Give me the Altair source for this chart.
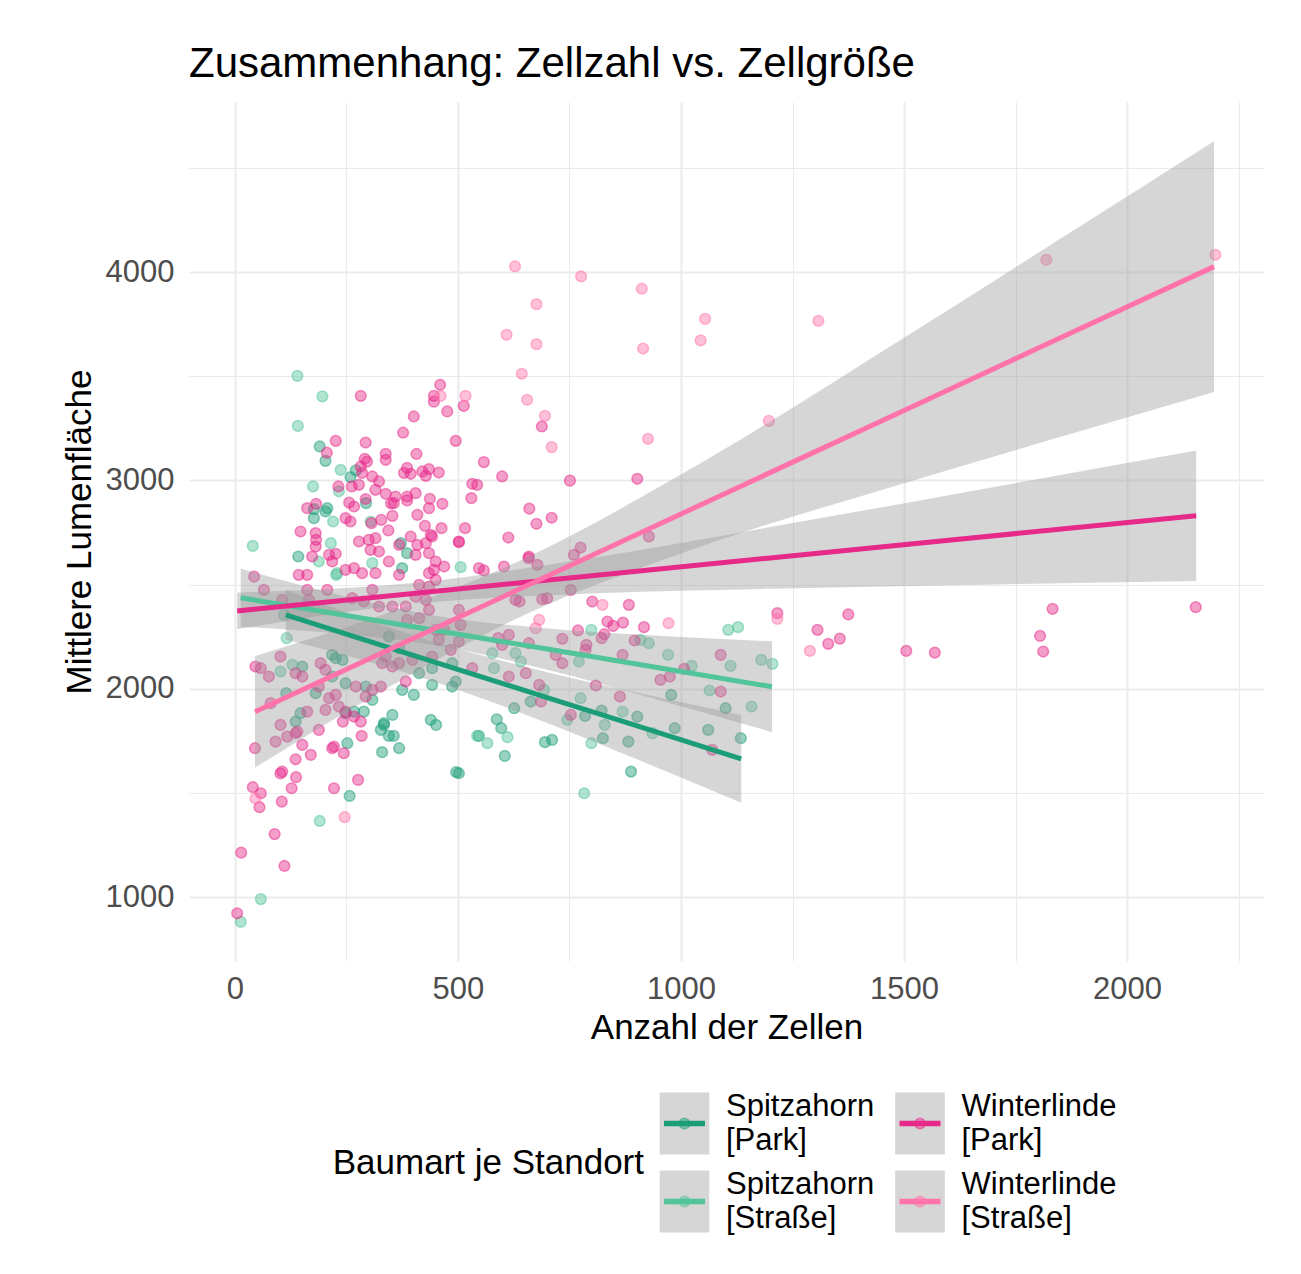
import pandas as pd
import altair as alt

FONT = "Liberation Sans"

# ---------- data ----------
groups = ["Spitzahorn [Park]", "Spitzahorn [Straße]", "Winterlinde [Park]", "Winterlinde [Straße]"]
colors = ["#1b9e77", "#52c49a", "#e7298a", "#ff73aa"]

spp_x = [190, 203, 259, 271, 294, 177, 207, 177, 203, 142, 372, 375, 386, 151, 115, 136, 147, 181, 218, 226,
         241, 218, 248, 248, 267, 289, 308, 293, 334, 353, 327, 368, 345, 375, 401, 413, 442, 442, 487, 487,
         495, 252, 257, 334, 345, 356, 330, 368, 439, 451, 496, 663, 626, 785, 822, 902, 986, 1100, 1061, 1134,
         978, 547, 587, 597, 605, 695, 711, 825, 882, 888, 502]
spp_y = [3163, 3094, 3016, 3048, 2891, 2862, 2867, 2819, 2851, 2635, 2699, 2579, 2651, 2107, 1979, 1843, 1883, 1979, 2163, 2147,
         2139, 2059, 2027, 1883, 1891, 1891, 1947, 2011, 1835, 1875, 1803, 2195, 2251, 1995, 1971, 2075, 2019, 2099, 2123, 2011,
         2035, 1739, 1486, 1827, 1774, 1774, 1696, 1715, 1851, 1827, 1600, 1939, 1907, 1870, 1896, 1867, 1811, 1907, 1803, 1763,
         1971, 1774, 1854, 1811, 1678, 1744, 1755, 1763, 1747, 1603, 1595]

sps_x = [140, 196, 141, 237, 175, 233, 220, 304, 40, 215, 188, 229, 308, 227, 506, 110, 116, 129, 102, 190,
         58, 13, 543, 577, 581, 629, 641, 693, 745, 775, 829, 869, 936, 1064, 1158, 971, 1024, 1111, 1180, 1205,
         1106, 1128, 799, 771, 928, 909, 566, 611, 799, 783]
sps_y = [3502, 3403, 3262, 3051, 2971, 2948, 2803, 2803, 2686, 2699, 2611, 2555, 2603, 2547, 2584, 2355, 2243, 2115, 2083, 1366,
         991, 882, 1774, 2171, 2099, 2171, 2131, 1995, 1851, 1955, 1827, 1891, 1787, 1992, 1915, 2163, 2110, 2110, 2139, 2120,
         2283, 2296, 2283, 2131, 2219, 2235, 1739, 1768, 1739, 1499]

wlp_x = [226, 206, 282, 293, 338, 338, 291, 296, 377, 401, 407, 460, 446, 446, 476, 513, 495, 232, 278, 262,
         308, 323, 315, 285, 282, 379, 386, 394, 420, 435, 428, 457, 532, 543, 256, 267, 293, 338, 360, 356,
         386, 386, 405, 350, 437, 435, 465, 409, 353, 328, 306, 162, 182, 248, 259, 147, 181, 426, 439, 463,
         516, 344, 394,
         182, 181, 173, 211, 226, 218, 278, 300, 315, 323, 304, 345, 368, 267, 285, 315, 248, 143, 162, 409,
         428, 442, 435, 405, 450, 469, 446, 502, 435, 450, 435, 368, 263, 289, 323, 308, 353, 383, 413, 405,
         386, 428, 435, 43, 65, 106, 162, 207, 166, 46, 58, 76, 102, 136, 151, 80, 102, 162, 192, 203,
         188, 211, 203, 233, 226, 248, 267, 271, 293, 308, 327, 330, 353, 368, 338, 398, 383, 413, 450, 457,
         469, 502, 506, 484, 442,
         91, 117, 136, 140, 151, 170, 188, 45, 136, 106, 102, 137, 127, 40, 58, 55, 105, 218, 222, 244,
         242, 282, 284, 222, 276, 89, 14, 111, 5,
         558, 599, 530, 751, 902, 660, 710, 676, 688, 502, 613, 928, 775, 760, 659,
         547, 558, 603, 658, 678, 753, 689, 700, 629, 638, 801, 883, 835, 848, 870, 917, 896, 614, 590, 599,
         532, 502, 659, 734, 769, 788, 786, 822, 828, 869, 734, 719, 682, 686, 652, 614, 809, 863, 753, 954,
         975, 1007, 1089, 1089, 1070,
         1216, 1306, 1330, 1356, 1375, 1505, 1569, 1833, 1805, 1812, 2154]
wlp_y = [3190, 3133, 3406, 3182, 3128, 3099, 3104, 3090, 3229, 3307, 3127, 3459, 3406, 3378, 3331, 3358, 3190, 2971, 2979, 2971,
         3019, 2995, 2955, 3036, 3067, 3036, 3060, 3032, 3043, 3054, 3022, 3038, 2984, 2979, 2894, 2875, 2911, 2936, 2923, 2891,
         2923, 2904, 2939, 2890, 2912, 2867, 2888, 2835, 2830, 2811, 2795, 2867, 2888, 2819, 2803, 2755, 2747, 2782, 2739, 2771,
         2771, 2760, 2731,
         2715, 2683, 2635, 2643, 2648, 2611, 2707, 2715, 2723, 2659, 2667, 2611, 2691, 2579, 2555, 2555, 2571, 2547, 2547, 2691,
         2699, 2731, 2651, 2643, 2611, 2587, 2571, 2707, 2555, 2523, 2491, 2547, 2435, 2419, 2395, 2475, 2395, 2395, 2499, 2443,
         2331, 2427, 2379, 2539, 2475, 2427, 2475, 2475, 2427, 2107, 2099, 2059, 2155, 2075, 2059, 1931, 1827, 1891, 2123, 2091,
         2011, 1955, 1899, 1915, 1971, 1891, 1867, 2011, 1963, 1995, 2011, 2123, 2107, 2123, 2155, 2139, 2035, 2339, 2283, 2235,
         2283, 2379, 2307, 2187, 2155,
         1747, 1771, 1787, 1795, 1731, 1683, 1803, 1715, 1662, 1603, 1594, 1576, 1523, 1528, 1499, 1432, 1459, 1715, 1723, 1691,
         1843, 1843, 1774, 1523, 1563, 1303, 1214, 1150, 923,
         3088, 3019, 2915, 2999, 3008, 2865, 2821, 2792, 3259, 2704, 2726, 2731, 2678, 2643, 2635,
         2579, 2568, 2587, 2627, 2595, 2475, 2430, 2435, 2427, 2419, 2419, 2403, 2323, 2302, 2318, 2296, 2232, 2259, 2243, 2211,
         2099, 2227, 2219, 2240, 2280, 2211, 2187, 2243, 2262, 2163, 2123, 2163, 2019, 1939, 2075, 2059, 2016, 1963, 1875, 2043,
         2059, 2096, 2163, 1987, 1707,
         2363, 2283, 2216, 2241, 2357, 2182, 2174, 2384, 2254, 2179, 2392]

wls_x = [461, 517, 628, 776, 912, 676, 1054, 1044, 609, 676, 915, 643, 655, 695, 710, 926, 1197, 1308, 1819, 2198,
         824, 682, 674, 972, 1216, 1289, 46, 246]
wls_y = [3406, 3406, 4027, 3979, 3920, 3846, 3775, 3672, 3699, 3654, 3633, 3512, 3387, 3310, 3160, 3200, 3286, 3766, 4059, 4083,
         2403, 2331, 2291, 2315, 2336, 2182, 1474, 1384]

# fitted lines and confidence bands (read at a few x positions)
spp_fit_x = [114, 250, 400, 700, 900, 1135]
spp_lo = [2235, 2160, 2066, 1836, 1663, 1453]
spp_fit = [2355, 2263, 2161, 1958, 1823, 1664]
spp_hi = [2475, 2366, 2256, 2080, 1982, 1875]

sps_fit_x = [13, 250, 450, 700, 950, 1204]
sps_lo = [2298, 2262, 2209, 2092, 1947, 1792]
sps_fit = [2437, 2352, 2280, 2191, 2101, 2010]
sps_hi = [2576, 2442, 2351, 2290, 2255, 2228]

wlp_fit_x = [5, 400, 800, 1200, 1600, 2155]
wlp_lo = [2286, 2408, 2458, 2480, 2497, 2518]
wlp_fit = [2374, 2458, 2543, 2628, 2713, 2831]
wlp_hi = [2462, 2508, 2628, 2776, 2929, 3144]

wls_fit_x = [45, 300, 650, 1000, 1500, 1800, 2195]
wls_lo = [1622, 1953, 2356, 2650, 2987, 3177, 3424]
wls_fit = [1890, 2143, 2491, 2839, 3336, 3634, 4026]
wls_hi = [2158, 2333, 2626, 3028, 3685, 4091, 4628]

title = "Zusammenhang: Zellzahl vs. Zellgröße"
x_title = "Anzahl der Zellen"
y_title = "Mittlere Lumenfläche"
legend_title = "Baumart je Standort"
x_ticks = [0, 250, 500, 750, 1000, 1250, 1500, 1750, 2000, 2250]
y_ticks = [1000, 1500, 2000, 2500, 3000, 3500, 4000, 4500]

# ---------- frames ----------
pts = pd.concat([
    pd.DataFrame({"group": g, "n": xs, "area": ys})
    for g, xs, ys in zip(groups, [spp_x, sps_x, wlp_x, wls_x], [spp_y, sps_y, wlp_y, wls_y])
])
fits = pd.concat([
    pd.DataFrame({"group": g, "n": xs, "lo": lo, "fit": ft, "hi": hi})
    for g, xs, lo, ft, hi in zip(
        groups,
        [spp_fit_x, sps_fit_x, wlp_fit_x, wls_fit_x],
        [spp_lo, sps_lo, wlp_lo, wls_lo],
        [spp_fit, sps_fit, wlp_fit, wls_fit],
        [spp_hi, sps_hi, wlp_hi, wls_hi],
    )
])
legend_df = pd.DataFrame({
    "group": groups,
    "label": [g.replace(" [", "\n[") for g in groups],
    "col": [i // 2 for i in range(len(groups))],
    "row": [i % 2 for i in range(len(groups))],
})

# ---------- scales / axes ----------
col_scale = alt.Scale(domain=groups, range=colors)
x_axis = alt.Axis(
    values=x_ticks, format="d", labelExpr="datum.value % 500 === 0 ? datum.label : ''",
    gridWidth={"condition": {"test": "datum.value % 500 === 0", "value": 2}, "value": 1.1},
    labelPadding=13, titlePadding=6,
)
y_axis = alt.Axis(
    values=y_ticks, format="d", labelExpr="datum.value % 1000 === 0 ? datum.label : ''",
    gridWidth={"condition": {"test": "datum.value % 1000 === 0", "value": 2}, "value": 1.1},
    labelPadding=15, titlePadding=8,
)
xs = alt.Scale(domain=[-103, 2307], nice=False, zero=False)
ys = alt.Scale(domain=[694, 4816], nice=False, zero=False)


def X(field):
    return alt.X(f"{field}:Q", scale=xs, axis=x_axis, title=x_title)


def Y(field):
    return alt.Y(f"{field}:Q", scale=ys, axis=y_axis, title=y_title)


points = alt.Chart(pts).mark_circle(size=115, fillOpacity=0.45, strokeOpacity=0.5, strokeWidth=1.5).encode(
    x=X("n"), y=Y("area"),
    fill=alt.Fill("group:N", scale=col_scale, legend=None),
    stroke=alt.Stroke("group:N", scale=col_scale, legend=None),
)
bands = alt.Chart(fits).mark_area(color="#999999", opacity=0.4, interpolate="monotone").encode(
    x=X("n"), y=Y("lo"), y2="hi:Q", detail="group:N"
)
lines = alt.Chart(fits).mark_line(strokeWidth=5).encode(
    x=X("n"), y=Y("fit"), color=alt.Color("group:N", scale=col_scale, legend=None)
)
main = alt.layer(points, bands, lines)

# ---------- legend drawn below the panel ----------
lx = alt.X("col:Q", scale=alt.Scale(domain=[0, 1], range=[495.5, 731]), axis=None)
ly = alt.Y("row:Q", scale=alt.Scale(domain=[0, 1], range=[1021.5, 1099.5]), axis=None)
key_box = alt.Chart(legend_df).mark_point(
    shape="M-0.8,-1H0.8V1H-0.8Z", size=62 ** 2, filled=True, color="#999999", opacity=0.4, strokeWidth=0
).encode(x=lx, y=ly)
key_dot = alt.Chart(legend_df).mark_circle(size=115, fillOpacity=0.45, strokeOpacity=0.5, strokeWidth=1.5).encode(
    x=lx, y=ly,
    fill=alt.Fill("group:N", scale=col_scale, legend=None),
    stroke=alt.Stroke("group:N", scale=col_scale, legend=None),
)
key_line = alt.Chart(legend_df).mark_point(
    shape="M-1,-0.14H1V0.14H-1Z", size=41 ** 2, filled=True, opacity=1, strokeWidth=0
).encode(x=lx, y=ly, color=alt.Color("group:N", scale=col_scale, legend=None))
key_text = alt.Chart(legend_df).mark_text(
    align="left", baseline="middle", dx=41.5, dy=-17, fontSize=31, lineHeight=34, lineBreak="\n",
    font=FONT, color="black"
).encode(x=lx, y=ly, text="label:N")
key_title = alt.Chart(pd.DataFrame({"t": [legend_title]})).mark_text(
    align="right", baseline="middle", fontSize=35, font=FONT, color="black"
).encode(x=alt.value(455), y=alt.value(1061), text="t:N")
legend = alt.layer(key_box, key_dot, key_line, key_text, key_title)

chart = alt.layer(main, legend).resolve_scale(x="independent", y="independent").properties(
    width=1075, height=859,
    padding={"left": 54, "top": 35, "right": 10, "bottom": 10},
    title=alt.TitleParams(title, anchor="start", frame="group", fontSize=42, font=FONT,
                          fontWeight="normal", color="black", offset=16),
).configure_view(stroke=None).configure_axis(
    domain=False, ticks=False, grid=True, gridColor="#ebebeb",
    labelFont=FONT, labelFontSize=31, labelColor="#4d4d4d", labelOverlap=False,
    titleFont=FONT, titleFontSize=35, titleFontWeight="normal", titleColor="black",
)

chart.save("out.html", embed_options={"renderer": "svg", "actions": False})
